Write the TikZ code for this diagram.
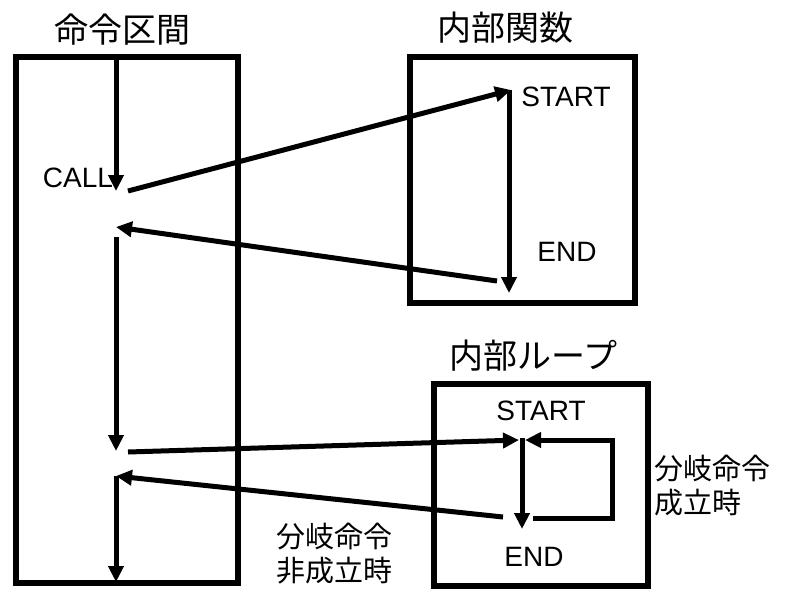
\documentclass[tikz,border=0pt]{standalone}
\usepackage{fontspec}
\setmainfont{Liberation Sans}
\newfontfamily\jp{Noto Sans CJK JP}
\usetikzlibrary{arrows.meta}
\begin{document}
\begin{tikzpicture}[x=1pt,y=-1pt,
  box/.style={draw, line width=5.5pt, inner sep=0pt},
  flow/.style={line width=5pt, -{Triangle[length=16pt,width=15pt]}},
  title/.style={font=\jp\fontsize{34}{36}\selectfont, inner sep=0pt},
  lbl/.style={font=\fontsize{28}{30}\selectfont, inner sep=0pt},
  jlbl/.style={font=\jp\fontsize{29}{34}\selectfont, inner sep=0pt, align=left}]
\useasboundingbox[fill=white] (0,0) rectangle (785,590);

% boxes
\node[box, minimum width=222pt, minimum height=526pt] (sec) at (127,320) {};
\node[box, minimum width=225pt, minimum height=246pt] (func) at (522.5,180) {};
\node[box, minimum width=214pt, minimum height=202pt] (loop) at (541,485) {};

% titles
\node[title] (tsec) at (122,30) {命令区間};
\node[title] (tfunc) at (505,28) {内部関数};
\node[title] (tloop) at (533,356) {内部ループ};

% labels
\node[lbl] (call) at (78,178) {CALL};
\node[lbl] (fstart) at (566,97) {START};
\node[lbl] (fend) at (567,252) {END};
\node[lbl] (lstart) at (541,411) {START};
\node[lbl] (lend) at (534,557) {END};
\node[jlbl, anchor=west] (yes) at (654,486) {分岐命令\\成立時};
\node[jlbl, anchor=west] (no) at (276,554) {分岐命令\\非成立時};

% coordinates
\coordinate (s0) at (116,59);
\coordinate (s1) at (116,191);
\coordinate (c0) at (128,191);
\coordinate (fs) at (511,90);
\coordinate (fv0) at (509,90);
\coordinate (fv1) at (509,293);
\coordinate (fr0) at (497,281);
\coordinate (r1) at (116,227);
\coordinate (s2) at (116,237);
\coordinate (s3) at (116,451);
\coordinate (b0) at (128,452);
\coordinate (ls) at (519,440);
\coordinate (lv0) at (522,438);
\coordinate (lv1) at (522,529);
\coordinate (lb0) at (533,518);
\coordinate (lb1) at (612,518);
\coordinate (lb2) at (612,440);
\coordinate (lb3) at (525,440);
\coordinate (lr0) at (503,517);
\coordinate (r2) at (116,476);
\coordinate (s4) at (116,582);

% connectors
\draw[flow] (s0) -- (s1);
\draw[flow] (c0) -- (fs);
\draw[flow] (fv0) -- (fv1);
\draw[flow] (fr0) -- (r1);
\draw[flow] (s2) -- (s3);
\draw[flow] (b0) -- (ls);
\draw[flow] (lv0) -- (lv1);
\draw[flow] (lb0) -- (lb1) -- (lb2) -- (lb3);
\draw[flow] (lr0) -- (r2);
\draw[flow] (r2) -- (s4);
\end{tikzpicture}
\end{document}
